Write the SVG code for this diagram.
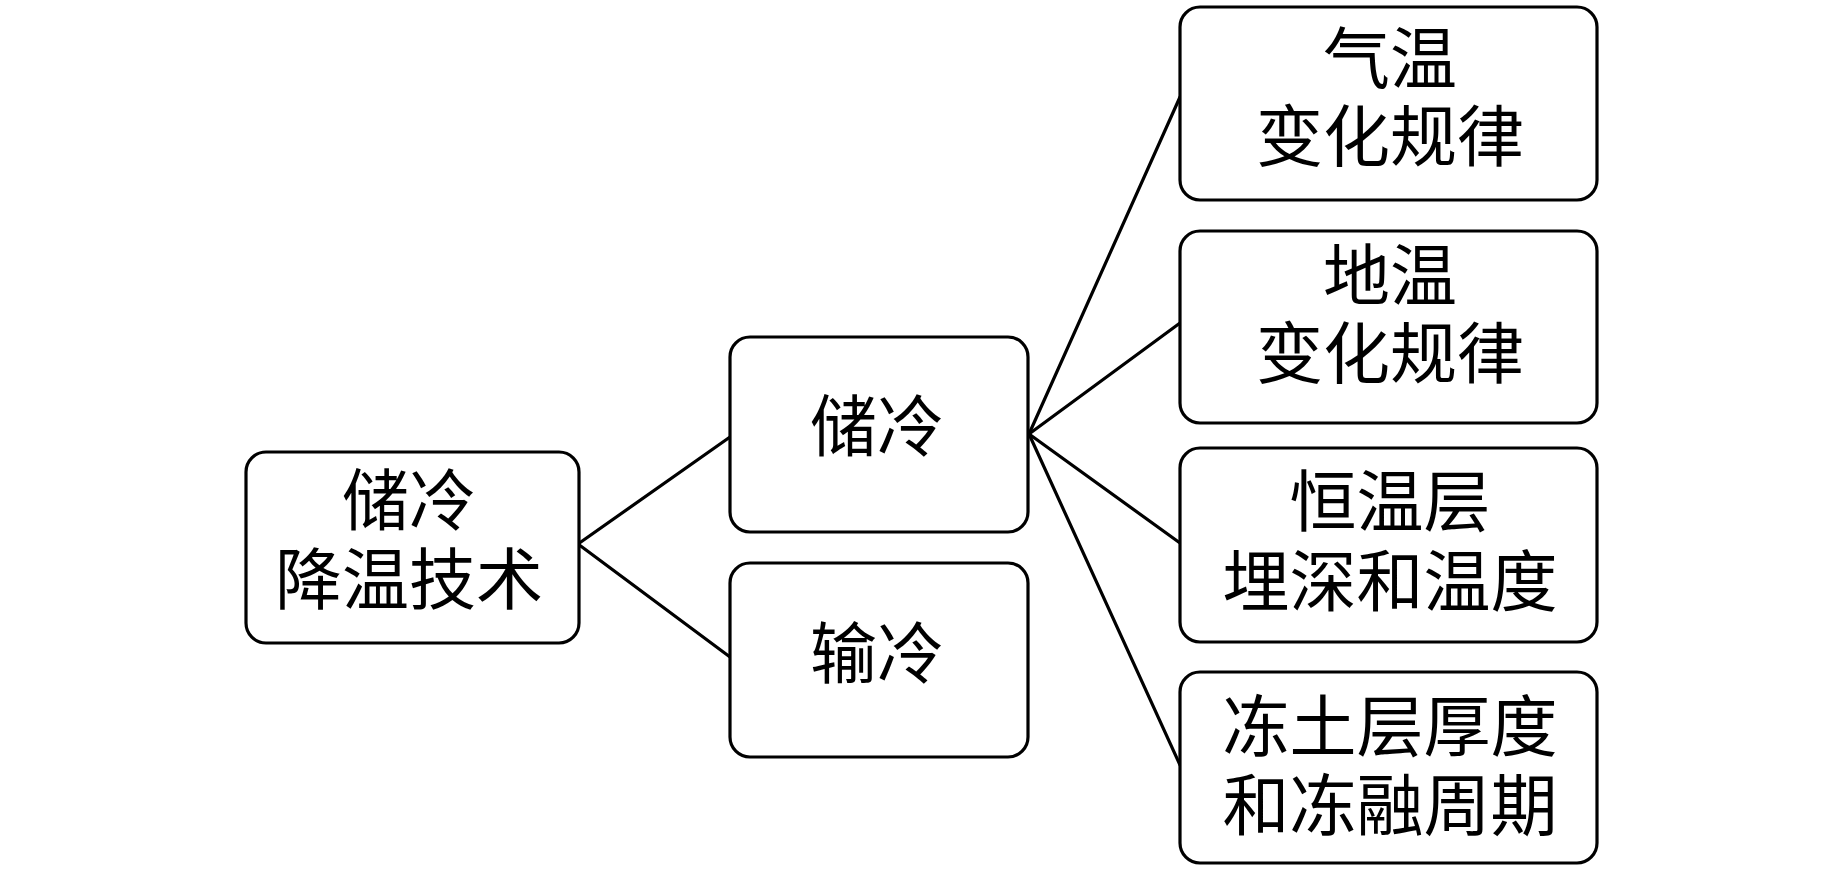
<svg xmlns="http://www.w3.org/2000/svg" width="1843" height="874" viewBox="0 0 1843 874">
<style>
.box{fill:#fff;stroke:#000;stroke-width:3.2}
.edge{stroke:#000;stroke-width:3.2;fill:none;stroke-linecap:round}
text{font-family:"Noto Sans CJK SC","Noto Sans CJK JP",sans-serif;font-size:67px;fill:#000;text-anchor:middle}
</style>
<rect width="1843" height="874" fill="#fff"/>
<g id="connectors">
<line class="edge" x1="578" y1="544" x2="730" y2="437"/>
<line class="edge" x1="578" y1="544" x2="730" y2="657"/>
<line class="edge" x1="1029" y1="434" x2="1180" y2="97"/>
<line class="edge" x1="1029" y1="434" x2="1180" y2="323"/>
<line class="edge" x1="1029" y1="434" x2="1180" y2="543"/>
<line class="edge" x1="1029" y1="434" x2="1180" y2="765"/>
</g>
<g id="root">
<rect class="box" x="246" y="452" width="333" height="191" rx="20"/>
<text x="409" y="525">储冷</text>
<text x="409" y="604">降温技术</text>
</g>
<g id="storage">
<rect class="box" x="730" y="337" width="298" height="195" rx="20"/>
<text x="877" y="451">储冷</text>
</g>
<g id="transport">
<rect class="box" x="730" y="563" width="298" height="194" rx="20"/>
<text x="877" y="678">输冷</text>
</g>
<g id="air-temp">
<rect class="box" x="1180" y="7" width="417" height="193" rx="20"/>
<text x="1390" y="83">气温</text>
<text x="1390" y="161">变化规律</text>
</g>
<g id="ground-temp">
<rect class="box" x="1180" y="231" width="417" height="192" rx="20"/>
<text x="1390" y="300">地温</text>
<text x="1390" y="378">变化规律</text>
</g>
<g id="constant-layer">
<rect class="box" x="1180" y="448" width="417" height="194" rx="20"/>
<text x="1390" y="526">恒温层</text>
<text x="1390" y="606">埋深和温度</text>
</g>
<g id="frozen-layer">
<rect class="box" x="1180" y="672" width="417" height="191" rx="20"/>
<text x="1390" y="751">冻土层厚度</text>
<text x="1390" y="830">和冻融周期</text>
</g>
</svg>
